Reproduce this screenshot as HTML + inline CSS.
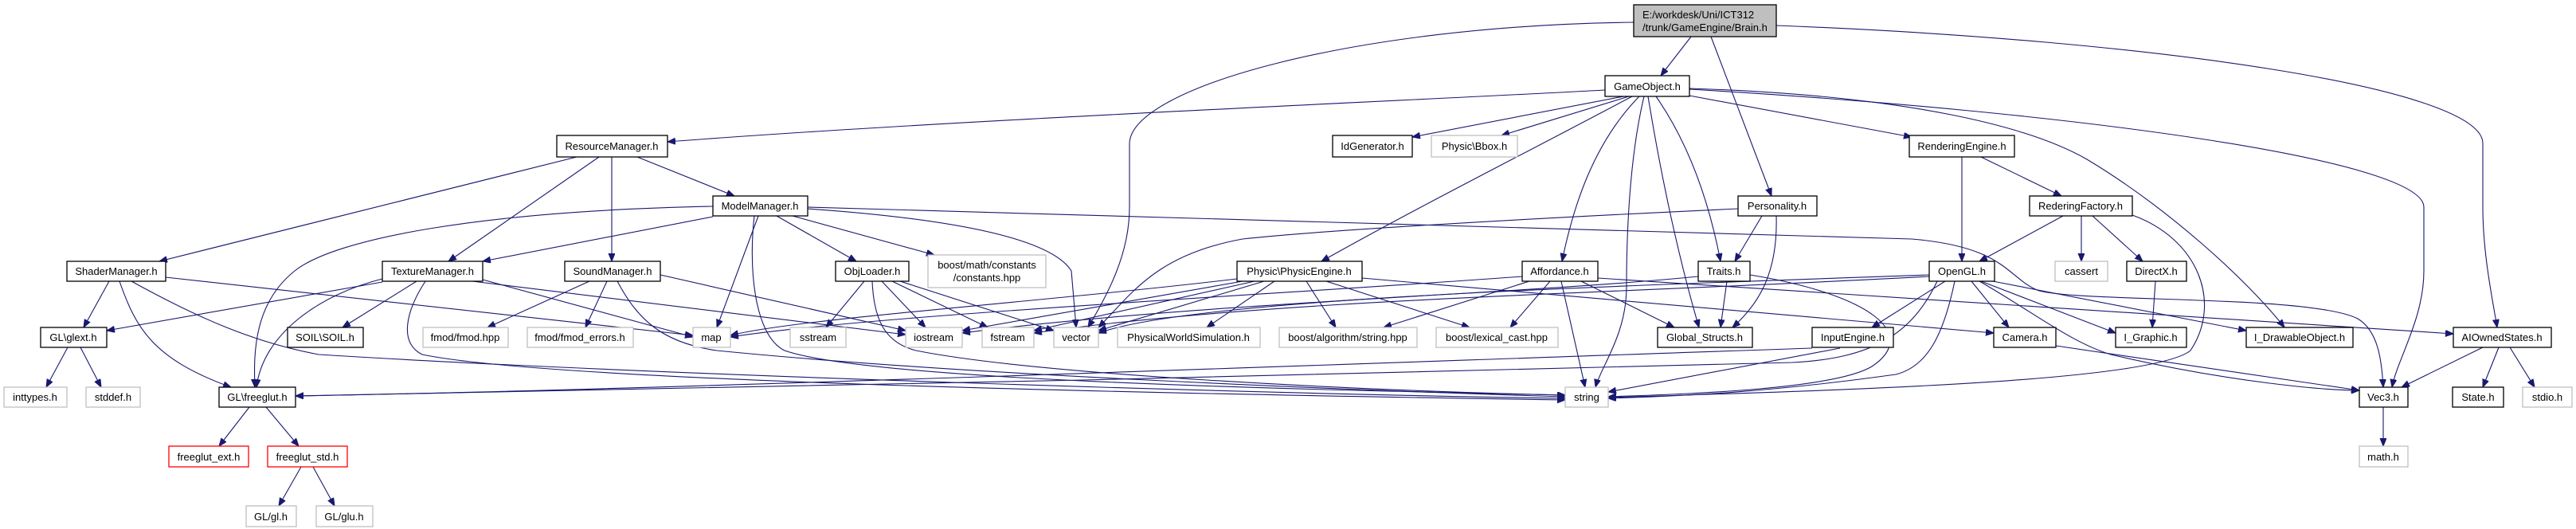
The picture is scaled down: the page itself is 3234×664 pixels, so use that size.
<!DOCTYPE html>
<html><head><meta charset="utf-8"><style>
html,body{margin:0;padding:0;background:#fff;}
svg{display:block;}
text{font-family:"Liberation Sans",Arial,sans-serif;font-size:13px;fill:#000;}
.n rect{fill:#fff;stroke:#000;stroke-width:1.3;}
.g rect{fill:#fff;stroke:#bfbfbf;stroke-width:1.3;}
.r rect{fill:#fff;stroke:#ff0000;stroke-width:1.3;}
.e path{fill:none;stroke:#191970;stroke-width:1.1;marker-end:url(#a);}
</style></head><body>
<svg width="3234" height="664" viewBox="0 0 3234 664" xmlns="http://www.w3.org/2000/svg">
<defs><marker id="a" markerUnits="userSpaceOnUse" markerWidth="11" markerHeight="9" refX="10" refY="4" orient="auto"><path d="M0,0 L10,4 L0,8 z" fill="#191970" stroke="#191970"/></marker></defs>
<g class="e">
<path d="M2123,46 L2085,95"/>
<path d="M2148,46 L2224,246"/>
<path d="M2051,28 C1700,32 1420,110 1418,180 L1418,260 C1418,320 1390,370 1366,411"/>
<path d="M2230,32 C2700,50 3117,110 3117,180 L3117,260 C3117,320 3130,380 3135,411"/>
<path d="M2015,113 C1800,125 1200,150 838,178"/>
<path d="M2038,121 L1773,172"/>
<path d="M2045,121 L1885,170"/>
<path d="M2049,121 C1900,200 1780,260 1659,328"/>
<path d="M2058,121 C2000,180 1975,260 1961,328"/>
<path d="M2064,121 C2045,200 2042,300 2042,360 C2042,420 2010,460 2003,486"/>
<path d="M2069,121 C2090,250 2115,350 2133,411"/>
<path d="M2079,121 C2120,180 2145,250 2160,328"/>
<path d="M2121,120 L2400,172"/>
<path d="M2121,111 C2400,120 2550,160 2620,200 C2720,260 2820,350 2868,411"/>
<path d="M2121,112 C2600,140 3043,200 3043,260 L3043,340 C3043,400 3010,450 3003,486"/>
<path d="M724,197 L200,328"/>
<path d="M752,197 L563,328"/>
<path d="M768,197 L768,328"/>
<path d="M800,197 L922,246"/>
<path d="M895,259 C600,265 420,300 370,340 C320,380 318,440 320,486"/>
<path d="M895,272 L606,328"/>
<path d="M952,271 L900,411"/>
<path d="M947,271 C940,330 945,420 985,440 C1100,480 1700,490 1965,496"/>
<path d="M975,271 L1075,328"/>
<path d="M995,271 L1173,320"/>
<path d="M1014,262 C1200,275 1320,300 1345,340 L1351,411"/>
<path d="M1014,260 L2400,300 C2520,310 2520,350 2560,365 C2620,380 2900,370 2960,400 C2985,415 2990,450 2992,486"/>
<path d="M137,353 L105,411"/>
<path d="M150,353 C170,410 190,450 290,486"/>
<path d="M165,353 C250,400 320,430 400,445 C800,470 1600,495 1965,500"/>
<path d="M208,348 L870,421"/>
<path d="M480,354 L134,415"/>
<path d="M480,350 C400,370 330,420 322,486"/>
<path d="M523,353 L430,411"/>
<path d="M534,353 C510,390 500,430 530,445 C700,480 1500,495 1965,502"/>
<path d="M593,353 L1137,420"/>
<path d="M606,351 L870,423"/>
<path d="M740,353 L612,411"/>
<path d="M762,353 L735,411"/>
<path d="M775,353 C800,400 830,430 900,440 C1200,470 1700,490 1965,498"/>
<path d="M829,345 L1137,415"/>
<path d="M1085,353 L1037,411"/>
<path d="M1107,353 L1162,411"/>
<path d="M1120,353 L1240,411"/>
<path d="M1130,353 L1323,415"/>
<path d="M1095,353 C1097,400 1110,430 1150,440 C1300,470 1700,490 1965,496"/>
<path d="M85,436 L58,486"/>
<path d="M101,436 L127,486"/>
<path d="M313,511 L275,560"/>
<path d="M334,511 L375,560"/>
<path d="M378,586 L350,635"/>
<path d="M393,586 L420,635"/>
<path d="M1560,353 L1208,415"/>
<path d="M1575,353 L1298,415"/>
<path d="M1587,353 L1379,415"/>
<path d="M1600,353 L1515,411"/>
<path d="M1640,353 L1677,411"/>
<path d="M1665,353 L1845,411"/>
<path d="M1553,350 C1300,380 1000,400 917,421"/>
<path d="M1710,349 L2503,418"/>
<path d="M1911,347 C1600,370 1100,395 917,423"/>
<path d="M1920,353 L1737,411"/>
<path d="M1946,353 L1896,411"/>
<path d="M1985,353 L2102,411"/>
<path d="M1960,353 L1990,486"/>
<path d="M2006,349 L3080,419"/>
<path d="M2182,262 C1900,275 1650,290 1560,300 C1450,320 1420,370 1379,411"/>
<path d="M2212,271 L2178,328"/>
<path d="M2230,271 C2232,340 2210,380 2175,411"/>
<path d="M2132,347 C1900,370 1500,380 1208,418"/>
<path d="M2168,353 L2160,411"/>
<path d="M2197,345 C2350,370 2410,420 2350,460 C2300,490 2100,495 2019,498"/>
<path d="M2463,197 L2463,328"/>
<path d="M2487,197 L2588,246"/>
<path d="M2590,271 L2485,328"/>
<path d="M2613,271 L2613,328"/>
<path d="M2627,271 L2690,328"/>
<path d="M2677,270 C2760,300 2790,380 2750,440 C2700,480 2300,490 2019,499"/>
<path d="M2422,347 C2000,370 1600,375 1298,418"/>
<path d="M2422,345 C2000,360 1500,375 1379,418"/>
<path d="M2442,353 L2350,411"/>
<path d="M2454,353 C2440,420 2420,460 2380,470 C2200,495 2100,497 2019,500"/>
<path d="M2432,353 C2400,420 2350,450 2250,455 C1800,470 700,490 371,497"/>
<path d="M2475,353 L2522,411"/>
<path d="M2487,353 L2656,418"/>
<path d="M2502,353 L2820,415"/>
<path d="M2485,353 C2550,390 2600,430 2650,445 C2800,480 2920,490 2962,490"/>
<path d="M2706,353 L2702,411"/>
<path d="M2581,434 L2962,490"/>
<path d="M2275,437 C1600,460 800,490 371,497"/>
<path d="M2310,437 L2019,492"/>
<path d="M3117,436 L3015,486"/>
<path d="M3137,436 L3117,486"/>
<path d="M3151,436 L3182,486"/>
<path d="M2992,511 L2992,560"/>
</g>
<g class="n"><rect x="2051" y="6" width="179" height="40" style="fill:#bfbfbf;stroke:#000"/><text x="2062" y="23">E:/workdesk/Uni/ICT312</text><text x="2062" y="39">/trunk/GameEngine/Brain.h</text></g>
<g text-anchor="middle">
<g class="n"><rect x="2015" y="95" width="106" height="26"/><text x="2068" y="113">GameObject.h</text></g>
<g class="n"><rect x="699" y="170" width="139" height="27"/><text x="768" y="188">ResourceManager.h</text></g>
<g class="n"><rect x="1673" y="170" width="100" height="27"/><text x="1723" y="188">IdGenerator.h</text></g>
<g class="g"><rect x="1797" y="170" width="108" height="27"/><text x="1851" y="188">Physic\Bbox.h</text></g>
<g class="n"><rect x="2397" y="170" width="132" height="27"/><text x="2463" y="188">RenderingEngine.h</text></g>
<g class="n"><rect x="895" y="246" width="119" height="25"/><text x="954" y="263">ModelManager.h</text></g>
<g class="n"><rect x="2182" y="246" width="99" height="25"/><text x="2231" y="263">Personality.h</text></g>
<g class="n"><rect x="2548" y="246" width="129" height="25"/><text x="2612" y="263">RederingFactory.h</text></g>
<g class="n"><rect x="84" y="328" width="124" height="25"/><text x="146" y="345">ShaderManager.h</text></g>
<g class="n"><rect x="480" y="328" width="126" height="25"/><text x="543" y="345">TextureManager.h</text></g>
<g class="n"><rect x="709" y="328" width="120" height="25"/><text x="769" y="345">SoundManager.h</text></g>
<g class="n"><rect x="1049" y="328" width="92" height="25"/><text x="1095" y="345">ObjLoader.h</text></g>
<g class="g"><rect x="1165" y="320" width="148" height="41"/><text x="1239" y="337">boost/math/constants</text><text x="1239" y="353">/constants.hpp</text></g>
<g class="n"><rect x="1553" y="328" width="157" height="25"/><text x="1631" y="345">Physic\PhysicEngine.h</text></g>
<g class="n"><rect x="1911" y="328" width="95" height="25"/><text x="1958" y="345">Affordance.h</text></g>
<g class="n"><rect x="2132" y="328" width="65" height="25"/><text x="2164" y="345">Traits.h</text></g>
<g class="n"><rect x="2422" y="328" width="82" height="25"/><text x="2463" y="345">OpenGL.h</text></g>
<g class="g"><rect x="2580" y="328" width="66" height="25"/><text x="2613" y="345">cassert</text></g>
<g class="n"><rect x="2670" y="328" width="75" height="25"/><text x="2707" y="345">DirectX.h</text></g>
<g class="n"><rect x="51" y="411" width="83" height="25"/><text x="92" y="428">GL\glext.h</text></g>
<g class="n"><rect x="361" y="411" width="95" height="25"/><text x="408" y="428">SOIL\SOIL.h</text></g>
<g class="g"><rect x="531" y="411" width="107" height="25"/><text x="584" y="428">fmod/fmod.hpp</text></g>
<g class="g"><rect x="662" y="411" width="133" height="25"/><text x="728" y="428">fmod/fmod_errors.h</text></g>
<g class="g"><rect x="870" y="411" width="47" height="25"/><text x="893" y="428">map</text></g>
<g class="g"><rect x="992" y="411" width="70" height="25"/><text x="1027" y="428">sstream</text></g>
<g class="g"><rect x="1137" y="411" width="71" height="25"/><text x="1172" y="428">iostream</text></g>
<g class="g"><rect x="1233" y="411" width="65" height="25"/><text x="1265" y="428">fstream</text></g>
<g class="g"><rect x="1323" y="411" width="56" height="25"/><text x="1351" y="428">vector</text></g>
<g class="g"><rect x="1403" y="411" width="179" height="25"/><text x="1492" y="428">PhysicalWorldSimulation.h</text></g>
<g class="g"><rect x="1606" y="411" width="173" height="25"/><text x="1692" y="428">boost/algorithm/string.hpp</text></g>
<g class="g"><rect x="1803" y="411" width="153" height="25"/><text x="1879" y="428">boost/lexical_cast.hpp</text></g>
<g class="n"><rect x="2081" y="411" width="119" height="25"/><text x="2140" y="428">Global_Structs.h</text></g>
<g class="n"><rect x="2275" y="411" width="102" height="25"/><text x="2326" y="428">InputEngine.h</text></g>
<g class="n"><rect x="2503" y="411" width="78" height="25"/><text x="2542" y="428">Camera.h</text></g>
<g class="n"><rect x="2656" y="411" width="89" height="25"/><text x="2700" y="428">I_Graphic.h</text></g>
<g class="n"><rect x="2820" y="411" width="134" height="25"/><text x="2887" y="428">I_DrawableObject.h</text></g>
<g class="n"><rect x="3080" y="411" width="123" height="25"/><text x="3141" y="428">AIOwnedStates.h</text></g>
<g class="g"><rect x="5" y="486" width="79" height="25"/><text x="44" y="503">inttypes.h</text></g>
<g class="g"><rect x="108" y="486" width="68" height="25"/><text x="142" y="503">stddef.h</text></g>
<g class="n"><rect x="275" y="486" width="96" height="25"/><text x="323" y="503">GL\freeglut.h</text></g>
<g class="g"><rect x="1965" y="486" width="54" height="25"/><text x="1992" y="503">string</text></g>
<g class="n"><rect x="2962" y="486" width="61" height="25"/><text x="2992" y="503">Vec3.h</text></g>
<g class="n"><rect x="3079" y="486" width="64" height="25"/><text x="3111" y="503">State.h</text></g>
<g class="g"><rect x="3167" y="486" width="62" height="25"/><text x="3198" y="503">stdio.h</text></g>
<g class="r"><rect x="212" y="560" width="100" height="26"/><text x="262" y="578">freeglut_ext.h</text></g>
<g class="r"><rect x="336" y="560" width="100" height="26"/><text x="386" y="578">freeglut_std.h</text></g>
<g class="g"><rect x="2962" y="560" width="61" height="26"/><text x="2992" y="578">math.h</text></g>
<g class="g"><rect x="309" y="635" width="63" height="26"/><text x="340" y="653">GL/gl.h</text></g>
<g class="g"><rect x="397" y="635" width="71" height="26"/><text x="432" y="653">GL/glu.h</text></g>
</g>
</svg>
</body></html>
